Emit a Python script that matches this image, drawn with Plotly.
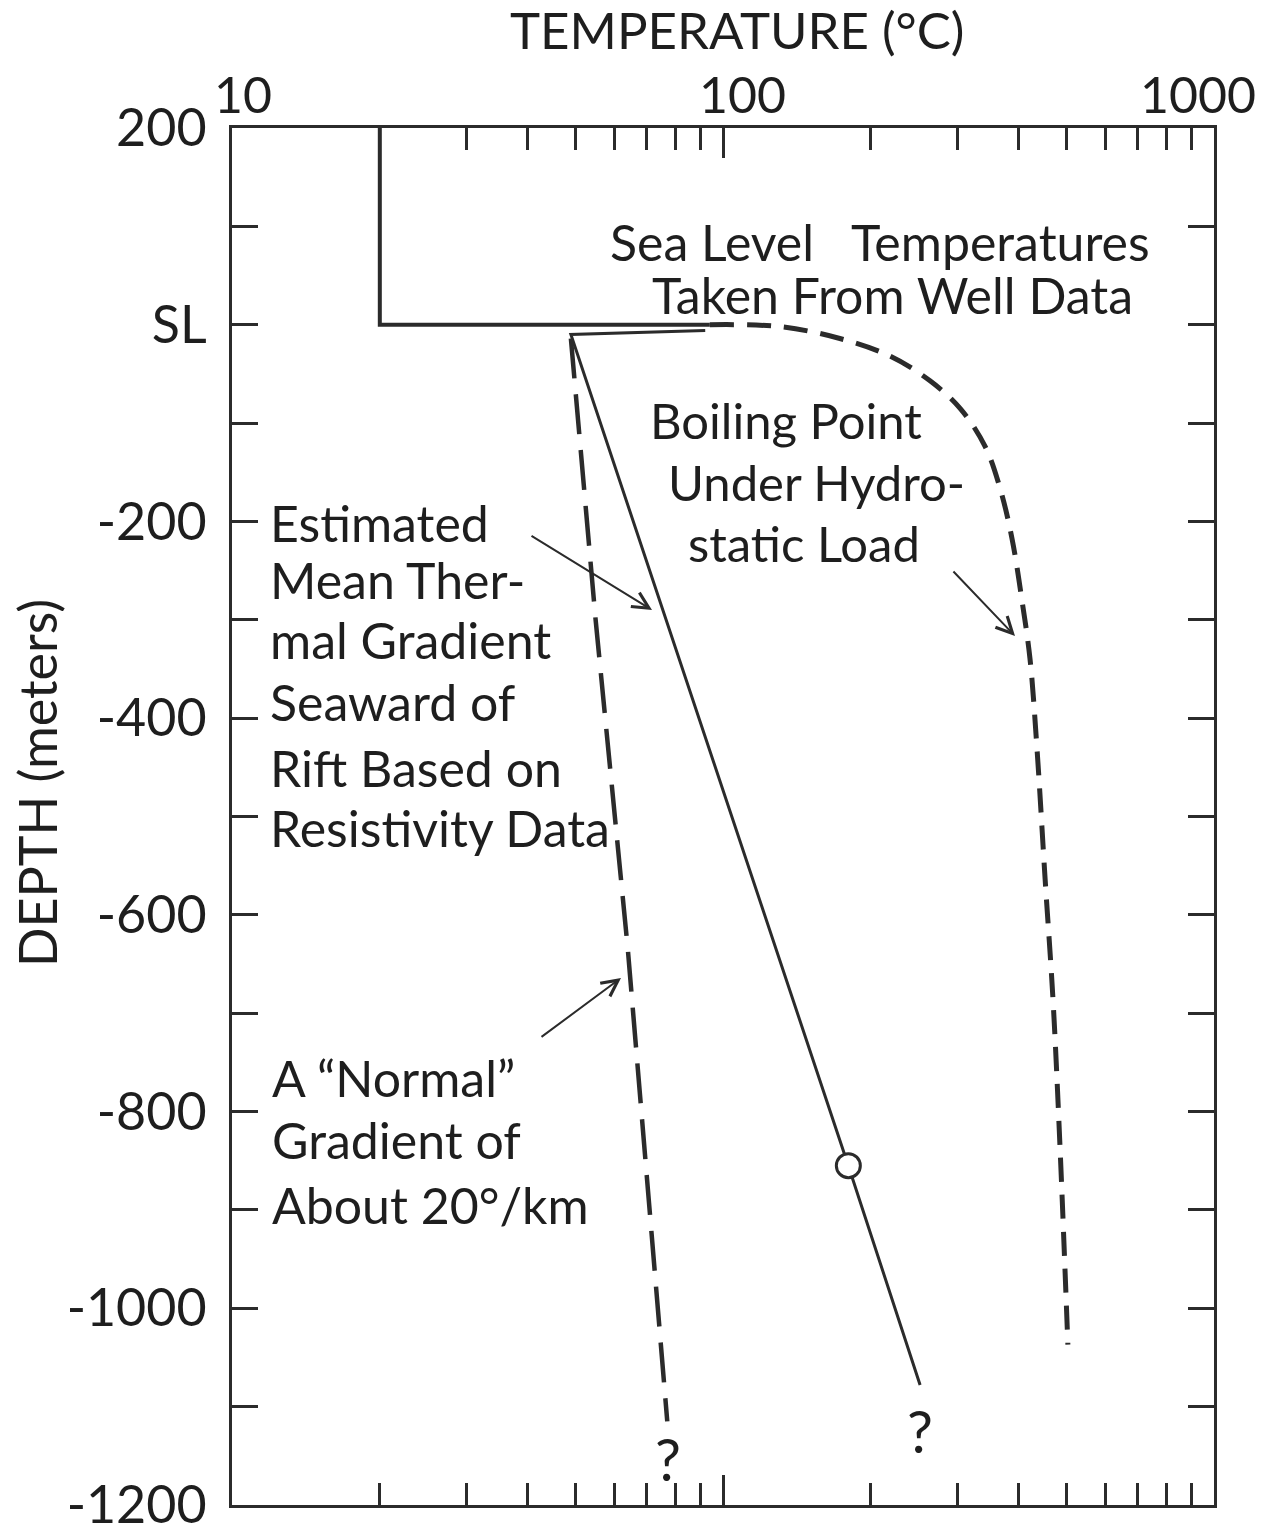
import math
import plotly.graph_objects as go

# ---------------- data ----------------
# Sea level temperatures taken from well data (solid step line)
sl_temp = [20, 20, 94]
sl_depth = [200, 0, 0]

# Boiling point under hydrostatic load (dashed curve)
boil_temp = [94, 131, 173, 219, 264, 304, 342, 367, 388, 406, 422, 436, 453, 470, 486, 504]
boil_depth = [0, -2, -14, -32, -57, -85, -124, -167, -218, -279, -340, -431, -564, -686, -839, -1037]

# Estimated mean thermal gradient seaward of rift (solid line)
est_temp = [92, 49, 180, 252]
est_depth = [-6, -10, -855, -1078]

# Observed point on the estimated gradient (open circle)
obs_temp = [180]
obs_depth = [-855]

# "Normal" gradient of about 20 deg/km (dashed line)
normal_temp = [49, 55, 64, 72, 77]
normal_depth = [-14, -299, -635, -940, -1115]

# axis ticks
NB = "\u00a0"
x_major = [10, 100, 1000]
x_major_text = ["10", "100", "1000"]
x_label_shift = [11, 19, -16]
x_minor = [20, 30, 40, 50, 60, 70, 80, 90, 200, 300, 400, 500, 600, 700, 800, 900]
y_major = [200, 0, -200, -400, -600, -800, -1000, -1200]
y_major_text = ["200", "SL", "-200", "-400", "-600", "-800", "-1000", "-1200"]
y_minor = [100, -100, -300, -500, -700, -900, -1100]

# ---------------- style ----------------
FONT = "Lato"
INK = "#1e1e1e"
LINE = "#2b2b2b"
W, H = 1262, 1533
L, R, T, B = 232, 48, 128, 28


def px(x):
    return (x - L) / (W - L - R)


def py(y):
    return (H - B - y) / (H - T - B)


fig = go.Figure()

fig.add_trace(go.Scatter(x=sl_temp, y=sl_depth, mode="lines",
                         line=dict(color=LINE, width=4), showlegend=False))
fig.add_trace(go.Scatter(x=boil_temp, y=boil_depth, mode="lines", line_shape="spline",
                         line=dict(color=LINE, width=5, dash="24px,13px"), showlegend=False))
fig.add_trace(go.Scatter(x=est_temp, y=est_depth, mode="lines",
                         line=dict(color=LINE, width=3), showlegend=False))
fig.add_trace(go.Scatter(x=normal_temp, y=normal_depth, mode="lines",
                         line=dict(color=LINE, width=4.5, dash="40px,16px"), showlegend=False))
fig.add_trace(go.Scatter(x=obs_temp, y=obs_depth, mode="markers",
                         marker=dict(size=24, color="white", line=dict(color=LINE, width=3)),
                         showlegend=False))

# ---------------- text ----------------
def text(s, x, y, size=50, anchor="left"):
    fig.add_annotation(text=s, x=px(x), y=py(y), xref="paper", yref="paper",
                       xanchor=anchor, yanchor="middle", showarrow=False,
                       font=dict(family=FONT, size=size, color=INK))


text("Sea Level" + NB * 3 + "Temperatures", 608, 242, size=50)
text("Taken From Well Data", 650, 295, size=50)
text("Boiling Point", 648, 420, size=49)
text("Under Hydro-", 666, 482, size=49)
text("static Load", 686, 543, size=49)
for s, y in [("Estimated", 523), ("Mean Ther-", 580), ("mal Gradient", 640),
             ("Seaward of", 702), ("Rift Based on", 768), ("Resistivity Data", 828)]:
    text(s, 268, y)
for s, y in [("A \u201cNormal\u201d", 1078), ("Gradient of", 1140), ("About 20°/km", 1205)]:
    text(s, 270, y)
text("?", 668, 1458, size=58, anchor="center")
text("?", 920, 1430, size=58, anchor="center")


def arrow(x0, y0, x1, y1):
    fig.add_annotation(x=px(x1), y=py(y1), ax=x0 - x1, ay=y0 - y1, xref="paper", yref="paper",
                       axref="pixel", ayref="pixel", text="", showarrow=True,
                       arrowhead=5, arrowsize=1.6, arrowwidth=2, arrowcolor=LINE)


arrow(530, 535, 652, 610)
arrow(952, 570, 1015, 636)
arrow(540, 1038, 621, 978)

# top temperature tick labels, placed on the log axis (annotation x is in log10 units)
for v, s, sh in zip(x_major, x_major_text, x_label_shift):
    fig.add_annotation(text=s, x=math.log10(v), xref="x", y=1, yref="paper", xanchor="center",
                       yanchor="middle", xshift=sh, yshift=34, showarrow=False,
                       font=dict(family=FONT, size=50, color=INK))

# axis titles
fig.add_annotation(text="TEMPERATURE (°C)", x=px(737), y=py(29), xref="paper", yref="paper",
                   xanchor="center", yanchor="middle", showarrow=False,
                   font=dict(family=FONT, size=51, color=INK))
fig.add_annotation(text="DEPTH (meters)", x=px(37), y=py(783), xref="paper", yref="paper",
                   xanchor="center", yanchor="middle", showarrow=False, textangle=-90,
                   font=dict(family=FONT, size=52, color=INK))

fig.update_xaxes(type="log", range=[1, 3], side="top", automargin=False,
                 tickvals=x_major, showticklabels=False,
                 ticks="inside", ticklen=30, tickwidth=3, tickcolor=LINE,
                 minor=dict(tickvals=x_minor, ticks="inside", ticklen=22, tickwidth=3, tickcolor=LINE,
                            showgrid=False),
                 showline=True, linewidth=3, linecolor=LINE, mirror="ticks",
                 showgrid=False, zeroline=False)
fig.update_yaxes(range=[-1200, 200], automargin=False,
                 tickvals=y_major, ticktext=y_major_text,
                 ticks="inside", ticklen=26, tickwidth=3, tickcolor=LINE,
                 minor=dict(tickvals=y_minor, ticks="inside", ticklen=26, tickwidth=3, tickcolor=LINE,
                            showgrid=False),
                 showline=True, linewidth=3, linecolor=LINE, mirror="ticks",
                 showgrid=False, zeroline=False, ticklabelstandoff=12,
                 ticklabeloverflow="allow",
                 tickfont=dict(family=FONT, size=52, color=INK))

fig.update_layout(width=W, height=H, margin=dict(l=L, r=R, t=T, b=B, autoexpand=False),
                  paper_bgcolor="white", plot_bgcolor="white", showlegend=False)

fig.write_html("out.html")
